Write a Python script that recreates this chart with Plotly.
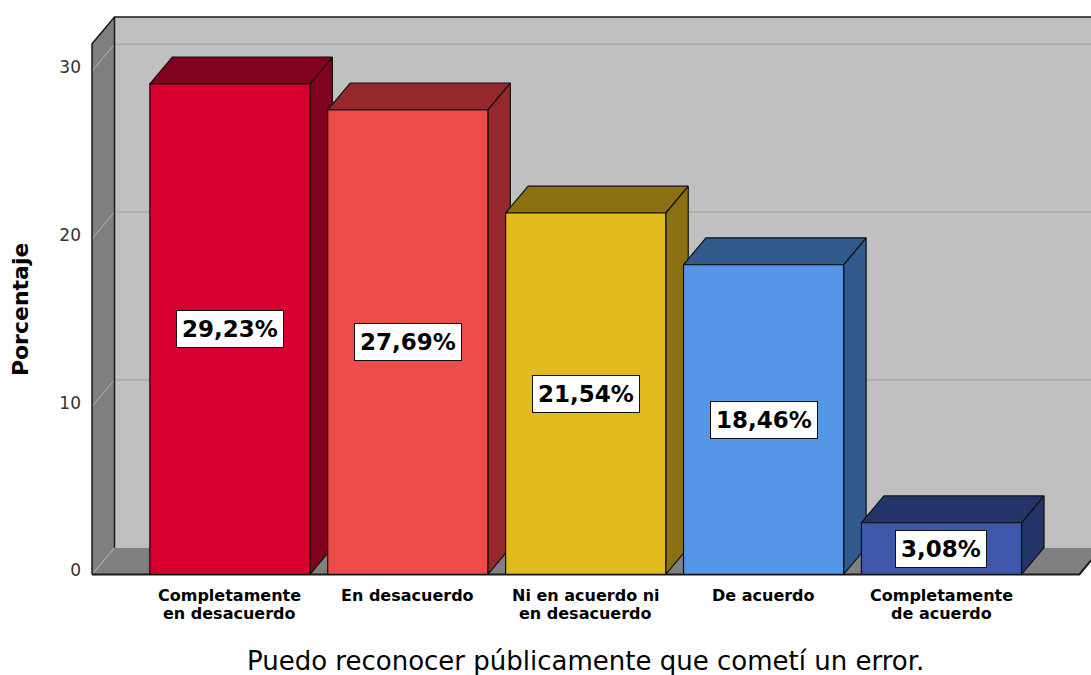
import plotly.graph_objects as go

# ---------------- data ----------------
categories = [
    "Completamente en desacuerdo",
    "En desacuerdo",
    "Ni en acuerdo ni en desacuerdo",
    "De acuerdo",
    "Completamente de acuerdo",
]
category_lines = [
    ["Completamente", "en desacuerdo"],
    ["En desacuerdo"],
    ["Ni en acuerdo ni", "en desacuerdo"],
    ["De acuerdo"],
    ["Completamente", "de acuerdo"],
]
values = [29.23, 27.69, 21.54, 18.46, 3.08]
front_colors = ["#D7002F", "#EE4B4B", "#E1BA1E", "#5596E6", "#3E57A8"]
shade_colors = ["#80001E", "#94282A", "#8B7112", "#325A8C", "#243468"]
y_ticks = [0, 10, 20, 30]
y_tick_text = ["0", "10", "20", "30"]
x_title = "Puedo reconocer públicamente que cometí un error."
y_title = "Porcentaje"

# ---------------- geometry (layout only) ----------------
PX_Y = 16.78          # pixels per percentage unit
PX_X = 177.9          # pixels per category step
BAR_W = 0.9
DX = 22.5 / PX_X      # depth offset (x, data units)
DY = 26.8 / PX_Y      # depth offset (y, data units)
X_LEFT, X_RIGHT = -0.775, 4.775
Y_TOP = 33.22
W, H = 1091, 675
ML, MR, MT, MB = 90, 0, 15, 99
plot_w = W - ML - MR
plot_h = H - MT - MB
x_range = [X_LEFT - 2 / PX_X, X_LEFT - 2 / PX_X + plot_w / PX_X]
y_range = [Y_TOP + 2 / PX_Y - plot_h / PX_Y, Y_TOP + 2 / PX_Y]

FONT = "DejaVu Sans"

fig = go.Figure()


def poly(xs, ys, fill, line_color="#111111", width=1.2):
    fig.add_trace(go.Scatter(
        x=list(xs) + [xs[0]], y=list(ys) + [ys[0]], mode="lines",
        fill="toself", fillcolor=fill,
        line=dict(color=line_color, width=width),
        hoverinfo="skip", showlegend=False))


def line(xs, ys, color, width):
    fig.add_trace(go.Scatter(
        x=xs, y=ys, mode="lines", line=dict(color=color, width=width),
        hoverinfo="skip", showlegend=False))


# walls and floor
poly([X_LEFT + DX, X_RIGHT + DX + 1, X_RIGHT + DX + 1, X_LEFT + DX],
     [DY, DY, Y_TOP, Y_TOP], "#C0C0C0", "rgba(0,0,0,0)", 0)
poly([X_LEFT, X_LEFT + DX, X_LEFT + DX, X_LEFT],
     [0, DY, Y_TOP, Y_TOP - DY], "#7F7F7F", "rgba(0,0,0,0)", 0)
poly([X_LEFT, X_RIGHT, X_RIGHT + DX, X_LEFT + DX],
     [0, 0, DY, DY], "#808080", "rgba(0,0,0,0)", 0)

# gridlines (back wall + left wall diagonals)
for t in y_ticks:
    line([X_LEFT, X_LEFT + DX], [t, t + DY], "#B4B4B4", 1)
    if t > 0:
        line([X_LEFT + DX, X_RIGHT + DX + 1], [t + DY, t + DY], "#AAAAAA", 1.5)

# wall outlines
line([X_LEFT, X_LEFT, X_LEFT + DX, X_RIGHT + DX + 1],
     [0, Y_TOP - DY, Y_TOP, Y_TOP], "#1A1A1A", 1.5)
line([X_LEFT + DX, X_LEFT + DX], [DY, Y_TOP], "#1A1A1A", 1.5)
line([X_LEFT, X_RIGHT, X_RIGHT + DX], [0, 0, DY], "#1A1A1A", 2)

# bars
for i, v in enumerate(values):
    x0, x1 = i - BAR_W / 2, i + BAR_W / 2
    poly([x1, x1 + DX, x1 + DX, x1], [0, DY, v + DY, v], shade_colors[i])
    poly([x0, x1, x1 + DX, x0 + DX], [v, v, v + DY, v + DY], shade_colors[i])
    poly([x0, x1, x1, x0], [0, 0, v, v], front_colors[i])

annotations = []
# value labels
for i, v in enumerate(values):
    annotations.append(dict(
        x=i, y=v / 2, xref="x", yref="y",
        text="<b>" + f"{v:.2f}".replace(".", ",") + "%</b>",
        showarrow=False, bgcolor="white", bordercolor="#111111",
        borderwidth=1, borderpad=5,
        font=dict(family=FONT, size=23, color="black"),
        xanchor="center", yanchor="middle"))

# category labels
for i, lines in enumerate(category_lines):
    for j, txt in enumerate(lines):
        annotations.append(dict(
            x=i, y=0, xref="x", yref="y", text=f"<b>{txt}</b>",
            showarrow=False, xanchor="center", yanchor="middle",
            yshift=-21 - 18.5 * j,
            font=dict(family=FONT, size=16, color="black")))

# axis titles
annotations.append(dict(
    x=(X_LEFT + X_RIGHT) / 2, y=0, xref="x", yref="y", text=x_title,
    showarrow=False, xanchor="center", yanchor="middle", yshift=-87,
    font=dict(family=FONT, size=26, color="black")))
annotations.append(dict(
    x=0, y=(Y_TOP - DY) / 2, xref="paper", yref="y", text=f"<b>{y_title}</b>",
    showarrow=False, xanchor="center", yanchor="middle", xshift=-70,
    textangle=-90, font=dict(family=FONT, size=22, color="black")))

fig.update_layout(
    width=W, height=H,
    margin=dict(l=ML, r=MR, t=MT, b=MB),
    paper_bgcolor="white", plot_bgcolor="white",
    showlegend=False,
    annotations=annotations,
    xaxis=dict(range=x_range, showgrid=False, zeroline=False, showline=False,
               showticklabels=False, ticks="", fixedrange=True),
    yaxis=dict(range=y_range, showgrid=False, zeroline=False, showline=False,
               tickvals=y_ticks, ticktext=y_tick_text, ticks="",
               ticklabelshift=-4, ticklabelstandoff=8,
               tickfont=dict(family=FONT, size=17, color="#333333"),
               fixedrange=True),
)

fig.write_html("out.html", post_script="document.body.style.margin='0';",
               config={"displayModeBar": False})
